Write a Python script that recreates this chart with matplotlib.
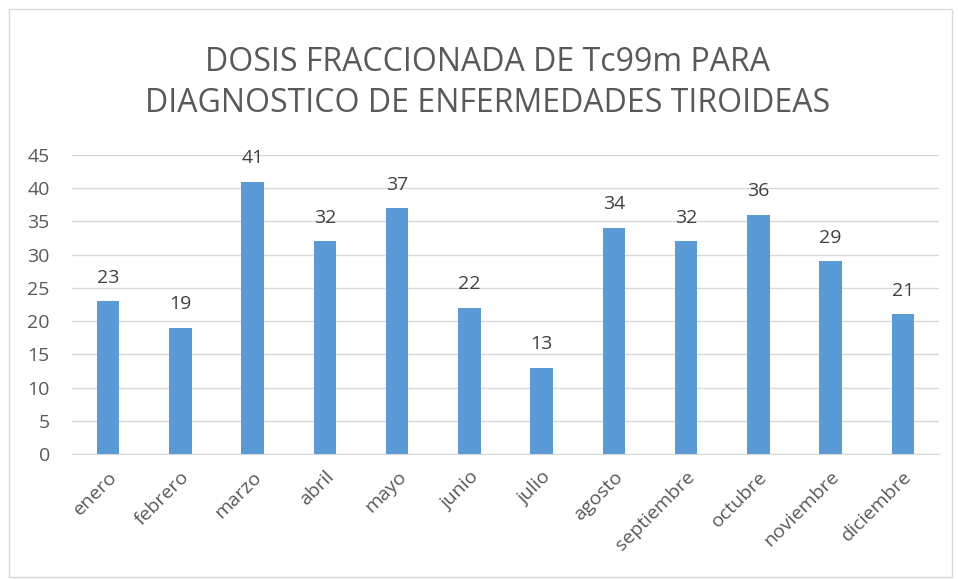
import numpy as np
import matplotlib.pyplot as plt
from matplotlib.patches import Rectangle

# data
meses = ['enero', 'febrero', 'marzo', 'abril', 'mayo', 'junio', 'julio',
         'agosto', 'septiembre', 'octubre', 'noviembre', 'diciembre']
dosis = [23, 19, 41, 32, 37, 22, 13, 34, 32, 36, 29, 21]
yticks = [0, 5, 10, 15, 20, 25, 30, 35, 40, 45]

plt.rcParams['font.family'] = ['Open Sans', 'DejaVu Sans']
txt = '#595959'

fig = plt.figure(figsize=(9.58, 5.79), dpi=100)
fig.patches.append(Rectangle((0.009, 0.003), 0.985, 0.982, transform=fig.transFigure,
                             fill=False, edgecolor='#d9d9d9', lw=1))

ax = fig.add_axes([72 / 958, 1 - 454 / 579, 867 / 958, 299 / 579])
x = np.arange(len(meses))
ax.bar(x, dosis, width=0.31, color='#5b9bd5', zorder=3)
for xi, v in zip(x, dosis):
    ax.text(xi, v + 2.2, str(v), ha='center', va='bottom', fontsize=14, color='#404040')

ax.set_xlim(-0.5, len(meses) - 0.5)
ax.set_ylim(0, 45)
ax.set_yticks(yticks)
ax.set_xticks(x)
ax.set_xticklabels(meses, rotation=45, ha='right', rotation_mode='anchor')
ax.tick_params(axis='both', length=0, labelsize=14, colors=txt)
ax.tick_params(axis='y', pad=16)
ax.tick_params(axis='x', pad=10)
ax.grid(axis='y', color='#d9d9d9', lw=1, zorder=0)
for s in ['top', 'right', 'left']:
    ax.spines[s].set_visible(False)
ax.spines['bottom'].set_color('#d9d9d9')

fig.text(0.509, 0.857, 'DOSIS FRACCIONADA DE Tc99m PARA\nDIAGNOSTICO DE ENFERMEDADES TIROIDEAS',
         ha='center', va='center', fontsize=23, color=txt, linespacing=1.3)

fig.savefig('out.png', dpi=100)
